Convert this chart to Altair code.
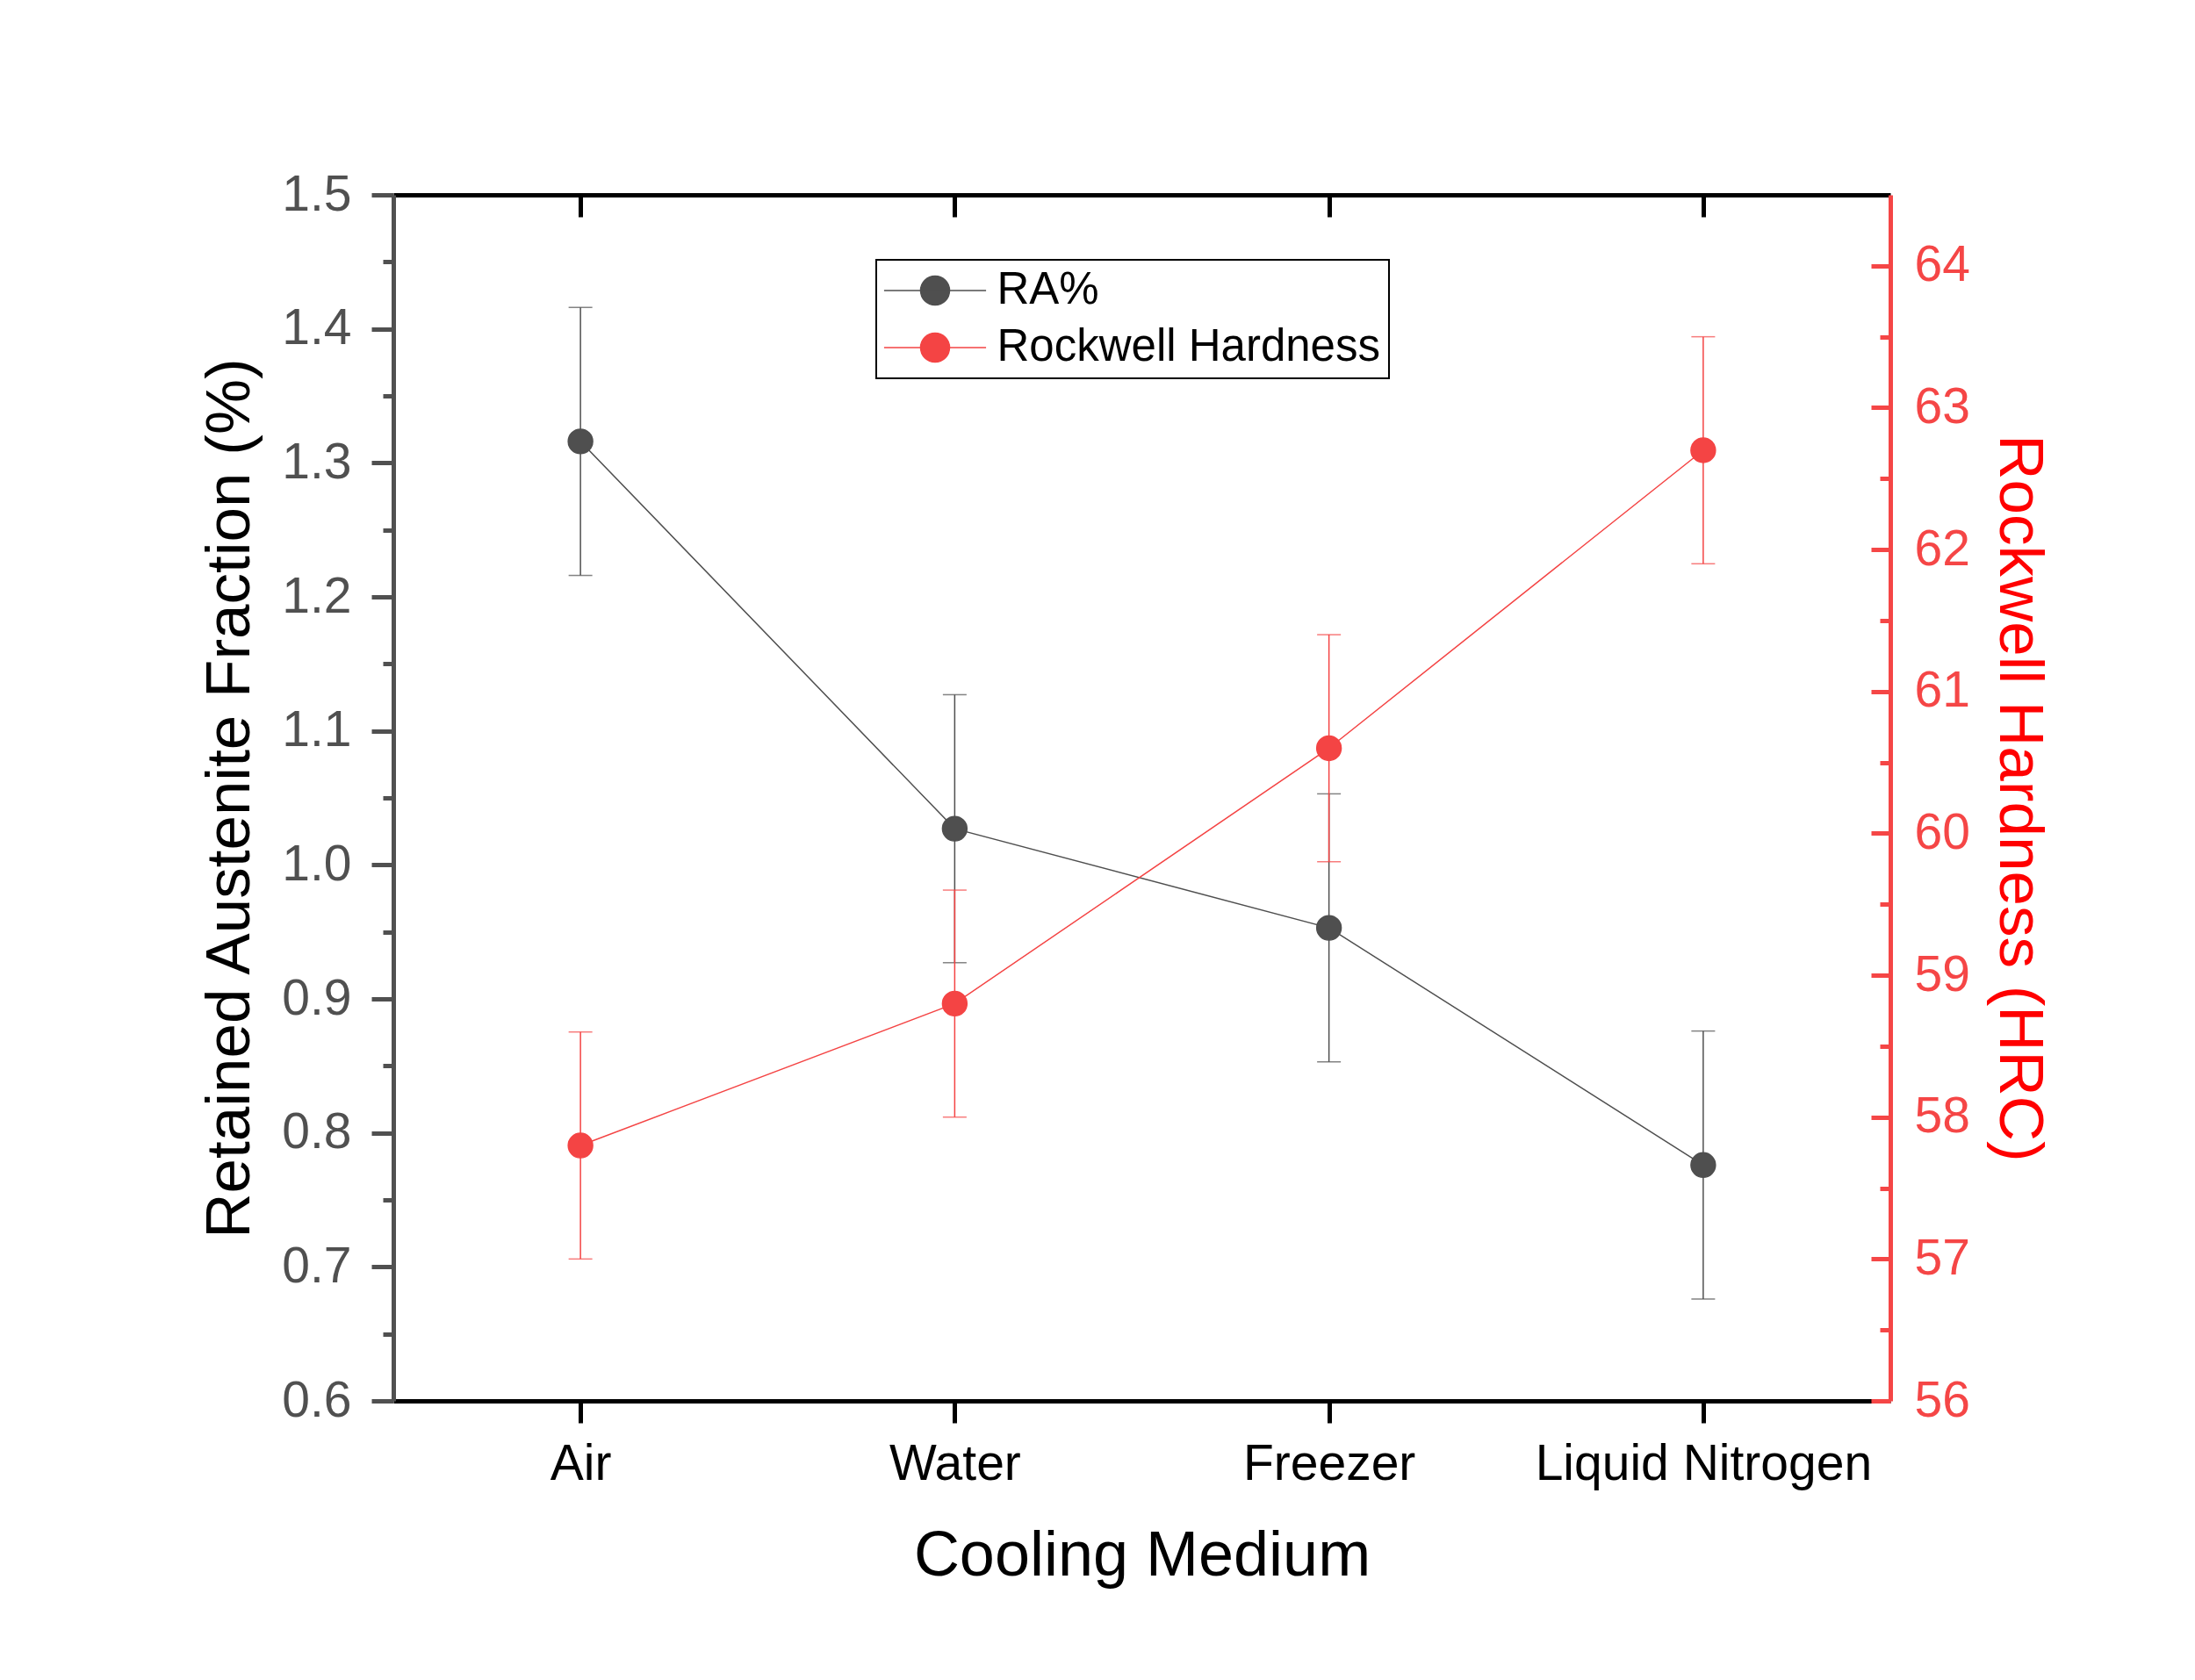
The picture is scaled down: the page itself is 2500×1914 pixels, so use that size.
import altair as alt
import pandas as pd

# ---- data ----
media = ["Air", "Water", "Freezer", "Liquid Nitrogen"]
series_names = ["RA%", "Rockwell Hardness"]
ra_values = [1.316, 1.027, 0.953, 0.776]
ra_err = [0.100, 0.100, 0.100, 0.100]
hrc_values = [57.8, 58.8, 60.6, 62.7]
hrc_err = [0.8, 0.8, 0.8, 0.8]

ra_ticks = [0.6, 0.7, 0.8, 0.9, 1.0, 1.1, 1.2, 1.3, 1.4, 1.5]
ra_minor = [0.65, 0.75, 0.85, 0.95, 1.05, 1.15, 1.25, 1.35, 1.45]
hrc_ticks = [56, 57, 58, 59, 60, 61, 62, 63, 64]
hrc_minor = [56.5, 57.5, 58.5, 59.5, 60.5, 61.5, 62.5, 63.5]

# ---- style ----
FONT = "Liberation Sans"
GRAY = "#4f4f4f"
AXGRAY = "#505050"
RED = "#f44444"
RED_AX = "#f54646"
W, H = 1705, 1374

ra_df = pd.DataFrame({
    "medium": media,
    "series": series_names[0],
    "value": ra_values,
    "lo": [v - e for v, e in zip(ra_values, ra_err)],
    "hi": [v + e for v, e in zip(ra_values, ra_err)],
})
hrc_df = pd.DataFrame({
    "medium": media,
    "series": series_names[1],
    "value": hrc_values,
    "lo": [v - e for v, e in zip(hrc_values, hrc_err)],
    "hi": [v + e for v, e in zip(hrc_values, hrc_err)],
})

x_scale = alt.Scale(type="point", padding=0.5)
ra_scale = alt.Scale(domain=[0.6, 1.5], nice=False, zero=False)
hrc_scale = alt.Scale(domain=[56, 64.5], nice=False, zero=False)


def xenc(axis=None):
    return alt.X("medium:N", sort=media, scale=x_scale, axis=axis)


bottom_axis = alt.Axis(
    orient="bottom", title="Cooling Medium", labelAngle=0,
    tickSize=25, tickWidth=5, tickColor="black",
    domainColor="black", domainWidth=5,
    labelFont=FONT, labelFontSize=57, labelColor="black", labelPadding=19,
    labelLimit=2000, labelOverlap=False,
    titleFont=FONT, titleFontSize=72, titleFontWeight="normal",
    titleColor="black", titlePadding=41, grid=False,
)
top_axis = alt.Axis(
    orient="bottom", offset=-H, labels=False, title=None,
    tickSize=25, tickWidth=5, tickColor="black",
    domainColor="black", domainWidth=5, grid=False,
)
left_axis = alt.Axis(
    orient="left", values=ra_ticks, format=".1f",
    tickSize=25, tickWidth=5, tickColor=AXGRAY,
    domainColor=AXGRAY, domainWidth=5,
    labelFont=FONT, labelFontSize=57, labelColor=AXGRAY, labelPadding=23,
    title="Retained Austenite Fraction (%)",
    titleFont=FONT, titleFontSize=71, titleFontWeight="normal",
    titleColor="black", titlePadding=22, grid=False,
)
left_minor_axis = alt.Axis(
    orient="left", values=ra_minor, tickSize=12, tickWidth=5,
    tickColor=AXGRAY, labels=False, domain=False, title=None, grid=False,
)
right_axis = alt.Axis(
    orient="right", values=hrc_ticks, format="d",
    ticks=False, tickSize=0,
    domainColor=RED_AX, domainWidth=5,
    labelFont=FONT, labelFontSize=57, labelColor=RED_AX, labelPadding=27,
    title="Rockwell Hardness (HRC)",
    titleFont=FONT, titleFontSize=71, titleFontWeight="normal",
    titleColor="#ff0000", titlePadding=19, grid=False,
)
right_major_in = alt.Axis(
    orient="left", offset=-W, values=hrc_ticks, tickSize=22, tickWidth=5,
    tickColor=RED_AX, labels=False, domain=False, title=None, grid=False,
)
right_minor_in = alt.Axis(
    orient="left", offset=-W, values=hrc_minor, tickSize=12, tickWidth=5,
    tickColor=RED_AX, labels=False, domain=False, title=None, grid=False,
)

SYMBOL = "M-3.52,0L3.52,0M1,0A1,1,0,1,1,-1,0A1,1,0,1,1,1,0Z"
legend = alt.Legend(
    orient="none", legendX=550, legendY=74, title=None, direction="vertical",
    symbolType=SYMBOL, symbolSize=1089, symbolStrokeWidth=1.5,
    symbolOffset=32, labelOffset=45, symbolOpacity=1,
    labelFont=FONT, labelFontSize=51, labelColor="black", labelLimit=1200,
    padding=9.5, rowPadding=13,
    strokeColor="black", fillColor="white", cornerRadius=0,
)
fill_enc = alt.Fill("series:N", legend=legend,
                    scale=alt.Scale(domain=series_names, range=[GRAY, RED]))
stroke_enc = alt.Stroke("series:N", legend=legend,
                        scale=alt.Scale(domain=series_names, range=[GRAY, RED]))

ra_base = alt.Chart(ra_df)
hrc_base = alt.Chart(hrc_df)

ra_line = ra_base.mark_line(color=GRAY, strokeWidth=1.5).encode(
    x=xenc(bottom_axis), y=alt.Y("value:Q", scale=ra_scale, axis=left_axis))
ra_rule = ra_base.mark_rule(color=GRAY, strokeWidth=1.5).encode(
    x=xenc(top_axis), y=alt.Y("lo:Q", scale=ra_scale, axis=left_minor_axis),
    y2="hi:Q")
ra_cap_lo = ra_base.mark_tick(color=GRAY, size=27, thickness=1.5,
                              orient="horizontal").encode(
    x=xenc(), y=alt.Y("lo:Q", scale=ra_scale, axis=None))
ra_cap_hi = ra_base.mark_tick(color=GRAY, size=27, thickness=1.5,
                              orient="horizontal").encode(
    x=xenc(), y=alt.Y("hi:Q", scale=ra_scale, axis=None))
ra_pts = ra_base.mark_point(filled=True, size=779, opacity=1, strokeWidth=1.5,
                            shape="circle").encode(
    x=xenc(), y=alt.Y("value:Q", scale=ra_scale, axis=None),
    fill=fill_enc, stroke=stroke_enc)

hrc_line = hrc_base.mark_line(color=RED, strokeWidth=1.5).encode(
    x=xenc(), y=alt.Y("value:Q", scale=hrc_scale, axis=right_axis))
hrc_rule = hrc_base.mark_rule(color=RED, strokeWidth=1.5).encode(
    x=xenc(), y=alt.Y("lo:Q", scale=hrc_scale, axis=right_major_in),
    y2="hi:Q")
hrc_cap_lo = hrc_base.mark_tick(color=RED, size=27, thickness=1.5,
                                orient="horizontal").encode(
    x=xenc(), y=alt.Y("lo:Q", scale=hrc_scale, axis=right_minor_in))
hrc_cap_hi = hrc_base.mark_tick(color=RED, size=27, thickness=1.5,
                                orient="horizontal").encode(
    x=xenc(), y=alt.Y("hi:Q", scale=hrc_scale, axis=None))
hrc_pts = hrc_base.mark_point(filled=True, size=779, opacity=1, strokeWidth=1.5,
                              shape="circle").encode(
    x=xenc(), y=alt.Y("value:Q", scale=hrc_scale, axis=None),
    fill=fill_enc, stroke=stroke_enc)

chart = alt.layer(
    ra_line, ra_rule, ra_cap_lo, ra_cap_hi,
    hrc_line, hrc_rule, hrc_cap_lo, hrc_cap_hi,
    ra_pts, hrc_pts,
).resolve_scale(y="independent").resolve_axis(x="independent").properties(
    width=W, height=H,
    autosize=alt.AutoSizeParams(type="none"),
    padding={"left": 440, "top": 214, "right": 339, "bottom": 310},
    background="white",
).configure_view(stroke=None).configure_legend(strokeWidth=2)

chart.save("out.html", embed_options={"renderer": "svg", "actions": False})
